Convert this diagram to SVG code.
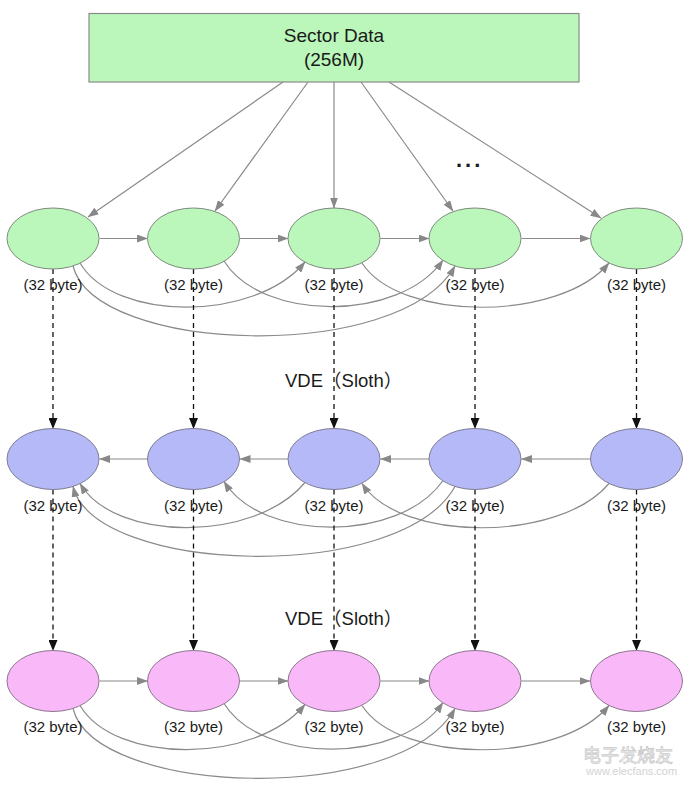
<svg xmlns="http://www.w3.org/2000/svg" width="692" height="786" viewBox="0 0 692 786">
<style>
text{font-family:"Liberation Sans","Noto Sans CJK SC",sans-serif;fill:#1a1a1a}
.box{fill:#bbf7bb;stroke:#8a8a8a;stroke-width:1.2}
.g{fill:#bbf7bb;stroke:#7d8a7d;stroke-width:1}
.b{fill:#b6b9f8;stroke:#7c7c92;stroke-width:1}
.p{fill:#f9b9f9;stroke:#8e7590;stroke-width:1}
.lbl{font-size:15px;text-anchor:middle}
.c{fill:none;stroke:#8a8a8a;stroke-width:1.2;marker-end:url(#ag)}
.d{fill:none;stroke:#111;stroke-width:1.3;stroke-dasharray:5 4;marker-end:url(#ab)}
.vde{font-size:18.5px}
</style>
<defs>
<marker id="ag" viewBox="0 0 11 8" refX="10.5" refY="4" markerWidth="11" markerHeight="8" markerUnits="userSpaceOnUse" orient="auto"><path d="M0,0 L11,4 L0,8 z" fill="#888"/></marker>
<marker id="ab" viewBox="0 0 9 11" refX="4.5" refY="10.5" markerWidth="9" markerHeight="11" markerUnits="userSpaceOnUse" orient="0"><path d="M0,0 L9,0 L4.5,11 z" fill="#111"/></marker>
</defs>
<rect width="692" height="786" fill="#ffffff"/>

<g id="connectors">
  <!-- from Sector Data -->
  <path class="c" d="M283,82 L88,217"/>
  <path class="c" d="M308,82 L215,211"/>
  <path class="c" d="M334,82 L334,208"/>
  <path class="c" d="M361,82 L453,211"/>
  <path class="c" d="M389,82 L601,218"/>
  <!-- row 1 straight -->
  <path class="c" d="M99.5,238.5 L147.5,238.5"/>
  <path class="c" d="M240,238.5 L288,238.5"/>
  <path class="c" d="M380.5,238.5 L429,238.5"/>
  <path class="c" d="M521.5,238.5 L590,238.5"/>
  <!-- row 1 curves -->
  <path class="c" d="M80,263 C115,322 255,322 305,262"/>
  <path class="c" d="M224,261 C262,322 400,322 443,260"/>
  <path class="c" d="M362,263 C400,322 560,322 609,263"/>
  <path class="c" d="M73,266 C95,354 400,364 455,266"/>
  <!-- row 1 -> row 2 dashed -->
  <path class="d" d="M53,269 L53,428.5"/>
  <path class="d" d="M193.5,269 L193.5,428.5"/>
  <path class="d" d="M334,269 L334,428.5"/>
  <path class="d" d="M475,269 L475,428.5"/>
  <path class="d" d="M636.5,269 L636.5,428.5"/>
  <!-- row 2 straight (leftward) -->
  <path class="c" d="M147.5,459 L99.5,459"/>
  <path class="c" d="M288,459 L240,459"/>
  <path class="c" d="M429,459 L380.5,459"/>
  <path class="c" d="M590,459 L521.5,459"/>
  <!-- row 2 curves -->
  <path class="c" d="M305,482.5 C255,542.5 115,542.5 80,483.5"/>
  <path class="c" d="M443,480.5 C400,542.5 262,542.5 224,481.5"/>
  <path class="c" d="M609,483.5 C560,542.5 400,542.5 362,483.5"/>
  <path class="c" d="M455,486.5 C400,584.5 95,574.5 73,486.5"/>
  <!-- row 2 -> row 3 dashed -->
  <path class="d" d="M53,489.5 L53,650.5"/>
  <path class="d" d="M193.5,489.5 L193.5,650.5"/>
  <path class="d" d="M334,489.5 L334,650.5"/>
  <path class="d" d="M475,489.5 L475,650.5"/>
  <path class="d" d="M636.5,489.5 L636.5,650.5"/>
  <!-- row 3 straight -->
  <path class="c" d="M99.5,681 L147.5,681"/>
  <path class="c" d="M240,681 L288,681"/>
  <path class="c" d="M380.5,681 L429,681"/>
  <path class="c" d="M521.5,681 L590,681"/>
  <!-- row 3 curves -->
  <path class="c" d="M80,705.5 C115,764.5 255,764.5 305,704.5"/>
  <path class="c" d="M224,703.5 C262,764.5 400,764.5 443,702.5"/>
  <path class="c" d="M362,705.5 C400,764.5 560,764.5 609,705.5"/>
  <path class="c" d="M73,708.5 C95,796.5 400,806.5 455,708.5"/>
</g>

<g id="sector-data">
  <rect class="box" x="89" y="13.5" width="490" height="68.5"/>
  <text x="334" y="42" font-size="19" text-anchor="middle">Sector Data</text>
  <text x="334" y="66" font-size="19" text-anchor="middle">(256M)</text>
</g>

<text id="ellipsis" x="456" y="167" font-size="22" font-weight="bold" letter-spacing="3">...</text>

<g id="r1n1"><ellipse class="g" cx="53" cy="238.5" rx="46" ry="30.5"/><text class="lbl" x="53" y="290">(32 byte)</text></g>
<g id="r1n2"><ellipse class="g" cx="193.5" cy="238.5" rx="46" ry="30.5"/><text class="lbl" x="193.5" y="290">(32 byte)</text></g>
<g id="r1n3"><ellipse class="g" cx="334" cy="238.5" rx="46" ry="30.5"/><text class="lbl" x="334" y="290">(32 byte)</text></g>
<g id="r1n4"><ellipse class="g" cx="475" cy="238.5" rx="46" ry="30.5"/><text class="lbl" x="475" y="290">(32 byte)</text></g>
<g id="r1n5"><ellipse class="g" cx="636.5" cy="238.5" rx="46" ry="30.5"/><text class="lbl" x="636.5" y="290">(32 byte)</text></g>

<text id="vde1" class="vde" x="285" y="387">VDE（Sloth）</text>

<g id="r2n1"><ellipse class="b" cx="53" cy="459" rx="46" ry="30.5"/><text class="lbl" x="53" y="511">(32 byte)</text></g>
<g id="r2n2"><ellipse class="b" cx="193.5" cy="459" rx="46" ry="30.5"/><text class="lbl" x="193.5" y="511">(32 byte)</text></g>
<g id="r2n3"><ellipse class="b" cx="334" cy="459" rx="46" ry="30.5"/><text class="lbl" x="334" y="511">(32 byte)</text></g>
<g id="r2n4"><ellipse class="b" cx="475" cy="459" rx="46" ry="30.5"/><text class="lbl" x="475" y="511">(32 byte)</text></g>
<g id="r2n5"><ellipse class="b" cx="636.5" cy="459" rx="46" ry="30.5"/><text class="lbl" x="636.5" y="511">(32 byte)</text></g>

<text id="vde2" class="vde" x="285" y="625">VDE（Sloth）</text>

<g id="r3n1"><ellipse class="p" cx="53" cy="681" rx="46" ry="30.5"/><text class="lbl" x="53" y="732">(32 byte)</text></g>
<g id="r3n2"><ellipse class="p" cx="193.5" cy="681" rx="46" ry="30.5"/><text class="lbl" x="193.5" y="732">(32 byte)</text></g>
<g id="r3n3"><ellipse class="p" cx="334" cy="681" rx="46" ry="30.5"/><text class="lbl" x="334" y="732">(32 byte)</text></g>
<g id="r3n4"><ellipse class="p" cx="475" cy="681" rx="46" ry="30.5"/><text class="lbl" x="475" y="732">(32 byte)</text></g>
<g id="r3n5"><ellipse class="p" cx="636.5" cy="681" rx="46" ry="30.5"/><text class="lbl" x="636.5" y="732">(32 byte)</text></g>

<g id="watermark" opacity="0.75">
  <text x="583" y="762" font-size="18" style="fill:#ffffff;stroke:#b8b8b8;stroke-width:0.8">电子发烧友</text>
  <text x="586" y="775" font-size="11" style="fill:#c4c4c4">www.elecfans.com</text>
</g>
</svg>
